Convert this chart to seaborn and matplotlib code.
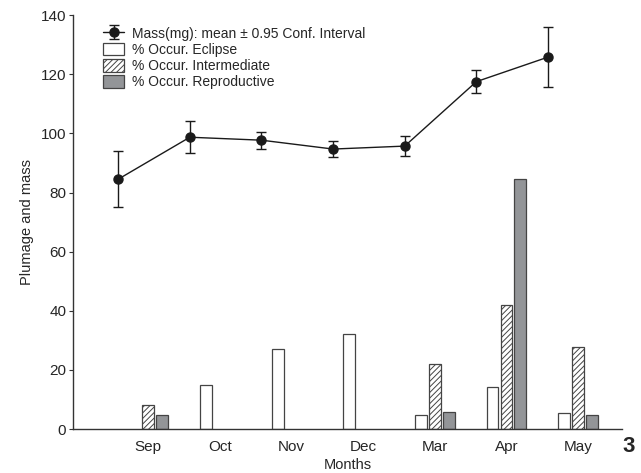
import numpy as np
import pandas as pd
import seaborn as sns
import matplotlib.pyplot as plt
from matplotlib.patches import Patch

# values
months = ['Sep', 'Oct', 'Nov', 'Dec', 'Mar', 'Apr', 'May']
mass_mean = [84.5, 98.7, 97.7, 94.7, 95.7, 117.5, 125.8]
mass_ci = [9.5, 5.4, 2.9, 2.6, 3.5, 3.9, 10.1]
eclipse = [0, 14.9, 27.2, 32.0, 4.6, 14.3, 5.3]
intermediate = [8.0, 0, 0, 0, 22.0, 41.8, 27.7]
reproductive = [4.6, 0, 0, 0, 5.7, 84.5, 4.6]

sns.set_style('white')
plt.rcParams['font.family'] = ['Liberation Sans', 'DejaVu Sans']
plt.rcParams['hatch.color'] = '#555555'
plt.rcParams['hatch.linewidth'] = 0.7

df = pd.DataFrame({'Month': months, 'Eclipse': eclipse,
                   'Intermediate': intermediate, 'Reproductive': reproductive})
long_df = df.melt(id_vars='Month', var_name='Plumage', value_name='Pct')

fig = plt.figure(figsize=(6.41, 4.73), dpi=100)
ax = fig.add_axes([0.114, 0.093, 0.856, 0.875])

sns.barplot(data=long_df, x='Month', y='Pct', hue='Plumage', order=months,
            width=0.58, gap=0.15, ax=ax, legend=False)

styles = {'Eclipse': ('white', ''), 'Intermediate': ('white', '//////'),
          'Reproductive': ('#939598', '')}
for cont, name in zip(ax.containers, ['Eclipse', 'Intermediate', 'Reproductive']):
    fc, hatch = styles[name]
    for bar in cont:
        bar.set_facecolor(fc)
        bar.set_edgecolor('#444444')
        bar.set_linewidth(0.9)
        bar.set_hatch(hatch)
        if bar.get_height() == 0:
            bar.set_visible(False)

# mass line sits to the left of each bar group
xpos = np.arange(len(months)) - 0.42
eb = ax.errorbar(xpos, mass_mean, yerr=mass_ci, color='#1a1a1a', lw=1.0,
                 marker='o', ms=6.5, capsize=3.5, elinewidth=1.0, capthick=1.0)

ax.set_xlim(-1.05, 6.61)
ax.set_ylim(0, 140)
ax.set_yticks(range(0, 141, 20))
ax.set_xlabel('Months', fontsize=10.5, labelpad=3)
ax.set_ylabel('Plumage and mass', fontsize=10.5, labelpad=5)
ax.tick_params(axis='x', length=0, pad=8, labelsize=11)
ax.tick_params(axis='y', length=3, width=0.8, direction='out', pad=2,
               labelsize=11, left=True, color='#333333')
sns.despine(ax=ax)
for s in ['left', 'bottom']:
    ax.spines[s].set_color('#333333')
    ax.spines[s].set_linewidth(1.0)

handles = [eb,
           Patch(facecolor='white', edgecolor='#444444', lw=0.9),
           Patch(facecolor='white', edgecolor='#444444', hatch='//////', lw=0.9),
           Patch(facecolor='#939598', edgecolor='#444444', lw=0.9)]
labels = ['Mass(mg): mean \u00b1 0.95 Conf. Interval', '% Occur. Eclipse',
          '% Occur. Intermediate', '% Occur. Reproductive']
ax.legend(handles, labels, loc='upper left', bbox_to_anchor=(0.045, 0.985),
          frameon=False, fontsize=10, handlelength=1.5, handleheight=1.0,
          handletextpad=0.6, labelspacing=0.15, borderaxespad=0)

fig.text(0.99, 0.055, '3', fontsize=16, fontweight='bold', ha='right', va='center')

fig.savefig('out.png', dpi=100)
